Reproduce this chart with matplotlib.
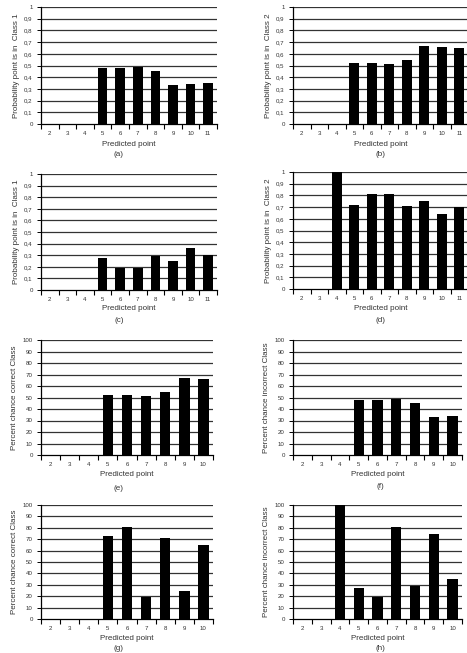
import matplotlib
matplotlib.use("Agg")
import matplotlib.pyplot as plt

plt.rcParams['font.family'] = ['Liberation Sans', 'DejaVu Sans']

# ---- data ----
points_a_d = ["2", "3", "4", "5", "6", "7", "8", "9", "10", "11"]
points_e_h = ["2", "3", "4", "5", "6", "7", "8", "9", "10"]

prob_class1_a = [0, 0, 0, 0.48, 0.48, 0.49, 0.45, 0.33, 0.34, 0.35]
prob_class2_b = [0, 0, 0, 0.52, 0.52, 0.51, 0.55, 0.67, 0.66, 0.65]
prob_class1_c = [0, 0, 0, 0.28, 0.19, 0.19, 0.29, 0.25, 0.36, 0.30]
prob_class2_d = [0, 0, 1.00, 0.72, 0.81, 0.81, 0.71, 0.75, 0.64, 0.70]

pct_correct_e = [0, 0, 0, 52, 52, 51, 55, 67, 66]
pct_incorrect_f = [0, 0, 0, 48, 48, 49, 45, 33, 34]
pct_correct_g = [0, 0, 0, 73, 81, 19, 71, 25, 65]
pct_incorrect_h = [0, 0, 100, 27, 19, 81, 29, 75, 35]

prob_ticks = [0, 0.1, 0.2, 0.3, 0.4, 0.5, 0.6, 0.7, 0.8, 0.9, 1.0]
prob_ticklabels = ["0", "0,1", "0,2", "0,3", "0,4", "0,5", "0,6", "0,7", "0,8", "0,9", "1"]
pct_ticks = [0, 10, 20, 30, 40, 50, 60, 70, 80, 90, 100]
pct_ticklabels = [str(v) for v in pct_ticks]

W, H = 467, 653
fig = plt.figure(figsize=(W / 100, H / 100), dpi=100)

TXT = "#333333"


def make_panel(rect_px, cats, vals, ticks, ticklabels, ylabel, caption, cap_x, xlabel_y, cap_y):
    l, r, t, b = rect_px
    ax = fig.add_axes([l / W, 1 - b / H, (r - l) / W, (b - t) / H])
    n = len(cats)
    xs = list(range(n))
    ax.bar(xs, vals, width=0.55, color="black", zorder=3)
    ax.set_xlim(-0.5, n - 0.5)
    ax.set_ylim(ticks[0], ticks[-1])
    ax.set_yticks(ticks)
    ax.set_yticklabels(ticklabels, fontsize=4.4, color=TXT)
    for yv in ticks[1:]:
        ax.axhline(yv, color="#333333", linewidth=0.9, zorder=1)
    # category labels at centers, tick marks at boundaries
    ax.set_xticks([x - 0.5 for x in range(n + 1)])
    ax.set_xticklabels([])
    ax.set_xticks(xs, minor=True)
    ax.set_xticklabels(cats, minor=True, fontsize=4.4, color=TXT)
    ax.tick_params(axis="x", which="major", length=3.5, width=0.8, direction="out")
    ax.tick_params(axis="x", which="minor", length=0, pad=5)
    ax.tick_params(axis="y", length=3, width=0.7, pad=3)
    for s in ["top", "right"]:
        ax.spines[s].set_visible(False)
    for s in ["left", "bottom"]:
        ax.spines[s].set_linewidth(0.9)
        ax.spines[s].set_color("black")
    ax.set_ylabel(ylabel, fontsize=5.8, color=TXT, labelpad=3)
    cx = (l + r) / 2
    fig.text(cx / W, 1 - xlabel_y / H, "Predicted point", fontsize=5.8, color=TXT,
             ha="center", va="center")
    fig.text(cap_x / W, 1 - cap_y / H, caption, fontsize=5.8, color=TXT,
             ha="center", va="center")
    return ax


make_panel((41, 217, 7, 124), points_a_d, prob_class1_a, prob_ticks, prob_ticklabels,
           "Probability point is in  Class 1", "(a)", 119, 144, 155)
make_panel((293, 468, 7, 124), points_a_d, prob_class2_b, prob_ticks, prob_ticklabels,
           "Probability point is in  Class 2", "(b)", 381, 144, 155)
make_panel((41, 217, 174, 290), points_a_d, prob_class1_c, prob_ticks, prob_ticklabels,
           "Probability point is in  Class 1", "(c)", 119, 309, 320)
make_panel((293, 468, 172, 289), points_a_d, prob_class2_d, prob_ticks, prob_ticklabels,
           "Probability point is in  Class 2", "(d)", 381, 309, 320)
make_panel((41, 213, 340, 455), points_e_h, pct_correct_e, pct_ticks, pct_ticklabels,
           "Percent chance correct Class", "(e)", 119, 474, 488)
make_panel((293, 462, 340, 455), points_e_h, pct_incorrect_f, pct_ticks, pct_ticklabels,
           "Percent chance incorrect Class", "(f)", 380, 474, 486)
make_panel((41, 213, 505, 619), points_e_h, pct_correct_g, pct_ticks, pct_ticklabels,
           "Percent chance correct Class", "(g)", 119, 639, 648)
make_panel((293, 462, 505, 619), points_e_h, pct_incorrect_h, pct_ticks, pct_ticklabels,
           "Percent chance incorrect Class", "(h)", 380, 638, 648)

fig.savefig("out.png", dpi=100, facecolor="white")
